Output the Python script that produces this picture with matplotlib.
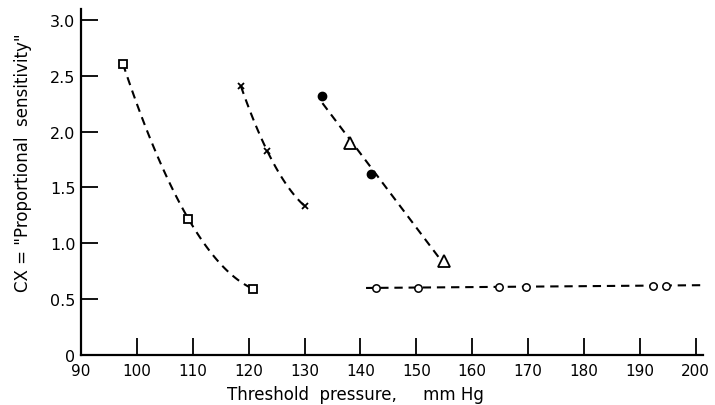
import numpy as np
import matplotlib
matplotlib.use("Agg")
import matplotlib.pyplot as plt

# Data
sq_x = [97.5, 109.2, 120.8]
sq_y = [2.61, 1.22, 0.59]

cross_x = [118.6, 123.3, 130.1]
cross_y = [2.41, 1.83, 1.33]

dot_x = [133.2, 141.8]
dot_y = [2.32, 1.62]

tri_x = [138.1, 155.0]
tri_y = [1.90, 0.84]

circ_x = [142.8, 150.3, 164.7, 169.6, 192.3, 194.7]
circ_y = [0.60, 0.60, 0.61, 0.61, 0.62, 0.62]

x_ticks = [90, 100, 110, 120, 130, 140, 150, 160, 170, 180, 190, 200]
y_ticks = [0, 0.5, 1.0, 1.5, 2.0, 2.5, 3.0]
y_tick_labels = ['0', '0.5', '1.0', '1.5', '2.0', '2.5', '3.0']

plt.rcParams['font.family'] = ['DejaVu Sans']

fig = plt.figure(figsize=(7.15, 4.06), dpi=100)
ax = fig.add_axes([0.1133, 0.124, 0.87, 0.851])

dash = dict(color='black', linestyle=(0, (4, 2.8)), linewidth=1.5)

# square curve (smooth)
p = np.polyfit(sq_x, sq_y, 2)
xs = np.linspace(sq_x[0], sq_x[-1], 100)
ax.plot(xs, np.polyval(p, xs), **dash)

# cross line
p = np.polyfit(cross_x, cross_y, 2)
xs = np.linspace(cross_x[0], cross_x[-1], 100)
ax.plot(xs, np.polyval(p, xs), **dash)

# dot / triangle line
lx = dot_x + tri_x
ly = dot_y + tri_y
p = np.polyfit(lx, ly, 1)
xs = np.linspace(min(lx), max(lx), 100)
ax.plot(xs, np.polyval(p, xs), **dash)

# circle line
p = np.polyfit(circ_x, circ_y, 1)
xs = np.linspace(141, 201.3, 100)
ax.plot(xs, np.polyval(p, xs), **dash)

ax.plot(sq_x, sq_y, 's', ms=5.8, mfc='white', mec='black', mew=1.3, zorder=3)
ax.plot(cross_x, cross_y, 'x', ms=4.8, color='black', mew=1.3, zorder=3)
ax.plot(dot_x, dot_y, 'o', ms=6, color='black', zorder=3)
ax.plot(tri_x, tri_y, '^', ms=9, mfc='white', mec='black', mew=1.3, zorder=3)
ax.plot(circ_x, circ_y, 'o', ms=5.3, mfc='white', mec='black', mew=1.1, zorder=3)

ax.set_xlim(90, 201.3)
ax.set_ylim(0, 3.1)
ax.set_xticks(x_ticks)
ax.set_xticklabels([str(v) for v in x_ticks], fontsize=11)
ax.set_yticks(y_ticks)
ax.set_yticklabels(y_tick_labels, fontsize=11.5)

for s in ['top', 'right']:
    ax.spines[s].set_visible(False)
for s in ['left', 'bottom']:
    ax.spines[s].set_linewidth(1.6)

ax.tick_params(axis='both', direction='in', length=12, width=1.3)
ax.tick_params(axis='x', pad=6)
ax.tick_params(axis='y', pad=4)

fig.text(355 / 715, 1 - 395 / 406, 'Threshold  pressure,     mm Hg',
         ha='center', va='center', fontsize=12)
fig.text(23 / 715, 1 - 163 / 406, 'CX = "Proportional  sensitivity"',
         ha='center', va='center', rotation=90, fontsize=12)

fig.savefig('out.png', dpi=100)
